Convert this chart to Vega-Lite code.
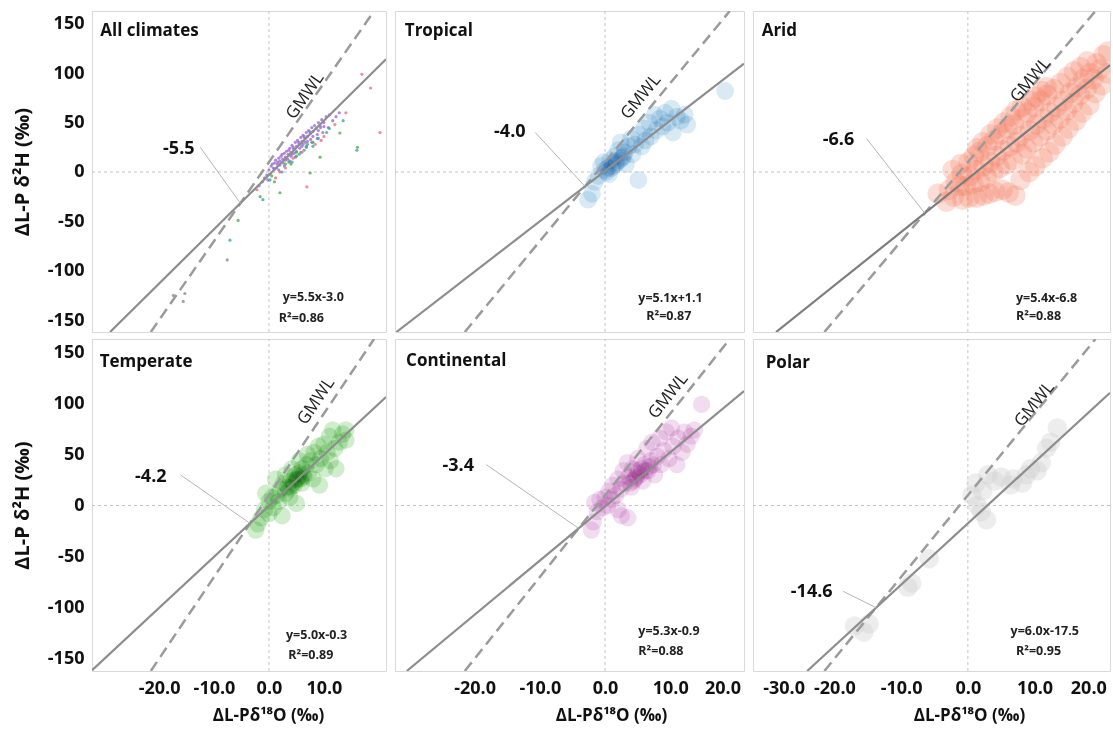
{
"$schema": "https://vega.github.io/schema/vega-lite/v6.json",
"padding": {"left": 11, "top": 10, "right": 0, "bottom": 0},
"background": "white",
"config": {
"view": {"stroke": "#d9d9d9", "strokeWidth": 1},
"font": "Open Sans",
"axis": {"ticks": false, "domain": false, "grid": false, "labelFontSize": 18, "labelFontWeight": "bold", "labelColor": "#111", "labelPadding": 8, "labelOverlap": false, "titleFontWeight": "bold", "titleColor": "#111"},
"axisX": {"labelFlush": false, "titleFontSize": 17, "titlePadding": 10},
"axisY": {"titleFontSize": 20, "titlePadding": 14, "minExtent": 46, "maxExtent": 46}
},
"datasets": {
"notes": [
{"panel":"All climates","eq":"y=5.5x-3.0","r2":"R²=0.86","cross":"-5.5"},
{"panel":"Tropical","eq":"y=5.1x+1.1","r2":"R²=0.87","cross":"-4.0"},
{"panel":"Arid","eq":"y=5.4x-6.8","r2":"R²=0.88","cross":"-6.6"},
{"panel":"Temperate","eq":"y=5.0x-0.3","r2":"R²=0.89","cross":"-4.2"},
{"panel":"Continental","eq":"y=5.3x-0.9","r2":"R²=0.88","cross":"-3.4"},
{"panel":"Polar","eq":"y=6.0x-17.5","r2":"R²=0.95","cross":"-14.6"}
],
"lines": [
{"kind":"zero","x":-32.2,"y":0,"x2":21.3,"y2":0},
{"kind":"zero","x":0,"y":-162,"x2":0,"y2":163},
{"kind":"gmwl","x":-21.5,"y":-162,"x2":19.125,"y2":163},
{"kind":"fit","panel":"All climates","x":-28.91,"y":-162,"x2":21.3,"y2":114.15},
{"kind":"fit","panel":"Tropical","x":-31.98,"y":-162,"x2":21.3,"y2":109.73},
{"kind":"fit","panel":"Arid","x":-28.74,"y":-162,"x2":21.3,"y2":108.22},
{"kind":"fit","panel":"Temperate","x":-32.2,"y":-161.3,"x2":21.3,"y2":106.2},
{"kind":"fit","panel":"Continental","x":-30.4,"y":-162,"x2":21.3,"y2":111.99},
{"kind":"fit","panel":"Polar","x":-24.08,"y":-162,"x2":21.3,"y2":110.3},
{"kind":"leader","panel":"All climates","x":-12.5,"y":25,"x2":-5.2,"y2":-31.6},
{"kind":"leader","panel":"Tropical","x":-10.7,"y":40,"x2":-3.07,"y2":-14.6},
{"kind":"leader","panel":"Arid","x":-15.2,"y":34,"x2":-6.46,"y2":-41.7},
{"kind":"leader","panel":"Temperate","x":-16.1,"y":30,"x2":-3.43,"y2":-17.5},
{"kind":"leader","panel":"Continental","x":-18.2,"y":40,"x2":-4.04,"y2":-22.3},
{"kind":"leader","panel":"Polar","x":-18.7,"y":-84,"x2":-13.75,"y2":-100}
],
"points": [
{"panel":"All climates","climate":"Continental","x":0,"y":2},{"panel":"All climates","climate":"Continental","x":0.4,"y":6},{"panel":"All climates","climate":"Continental","x":0.8,"y":4},{"panel":"All climates","climate":"Continental","x":1,"y":9},{"panel":"All climates","climate":"Continental","x":1.2,"y":12},{"panel":"All climates","climate":"Continental","x":1.5,"y":8},{"panel":"All climates","climate":"Continental","x":1.8,"y":14},{"panel":"All climates","climate":"Continental","x":2,"y":11},{"panel":"All climates","climate":"Continental","x":2.2,"y":16},{"panel":"All climates","climate":"Continental","x":2.5,"y":13},{"panel":"All climates","climate":"Continental","x":2.8,"y":19},{"panel":"All climates","climate":"Continental","x":3,"y":15},{"panel":"All climates","climate":"Continental","x":3.2,"y":21},{"panel":"All climates","climate":"Continental","x":3.5,"y":18},{"panel":"All climates","climate":"Continental","x":3.8,"y":24},{"panel":"All climates","climate":"Continental","x":4,"y":20},{"panel":"All climates","climate":"Continental","x":4.2,"y":27},{"panel":"All climates","climate":"Continental","x":4.5,"y":23},{"panel":"All climates","climate":"Continental","x":4.8,"y":30},{"panel":"All climates","climate":"Continental","x":5,"y":26},{"panel":"All climates","climate":"Continental","x":5.2,"y":32},{"panel":"All climates","climate":"Continental","x":5.5,"y":28},{"panel":"All climates","climate":"Continental","x":5.8,"y":35},{"panel":"All climates","climate":"Continental","x":6,"y":31},{"panel":"All climates","climate":"Continental","x":6.2,"y":37},{"panel":"All climates","climate":"Continental","x":6.5,"y":34},{"panel":"All climates","climate":"Continental","x":6.8,"y":40},{"panel":"All climates","climate":"Continental","x":7,"y":36},{"panel":"All climates","climate":"Continental","x":7.2,"y":42},{"panel":"All climates","climate":"Continental","x":7.5,"y":39},{"panel":"All climates","climate":"Continental","x":7.8,"y":45},{"panel":"All climates","climate":"Continental","x":8,"y":41},{"panel":"All climates","climate":"Continental","x":8.3,"y":47},{"panel":"All climates","climate":"Continental","x":8.6,"y":44},{"panel":"All climates","climate":"Continental","x":9,"y":50},{"panel":"All climates","climate":"Continental","x":9.3,"y":47},{"panel":"All climates","climate":"Continental","x":9.6,"y":53},{"panel":"All climates","climate":"Continental","x":10,"y":50},{"panel":"All climates","climate":"Continental","x":10.4,"y":56},{"panel":"All climates","climate":"Continental","x":3.4,"y":13},{"panel":"All climates","climate":"Continental","x":4.6,"y":19},{"panel":"All climates","climate":"Continental","x":5.6,"y":24},{"panel":"All climates","climate":"Continental","x":6.6,"y":30},{"panel":"All climates","climate":"Continental","x":1.4,"y":4},{"panel":"All climates","climate":"Continental","x":2.6,"y":9},{"panel":"All climates","climate":"Continental","x":7.6,"y":33},{"panel":"All climates","climate":"Continental","x":8.8,"y":38},{"panel":"All climates","climate":"Continental","x":-0.4,"y":-3},{"panel":"All climates","climate":"Continental","x":-0.8,"y":-6},{"panel":"All climates","climate":"Continental","x":11,"y":58},{"panel":"All climates","climate":"Continental","x":2.4,"y":18},{"panel":"All climates","climate":"Continental","x":3.6,"y":22},{"panel":"All climates","climate":"Continental","x":4.4,"y":25},{"panel":"All climates","climate":"Continental","x":5.4,"y":30},{"panel":"All climates","climate":"Continental","x":6.4,"y":36},{"panel":"All climates","climate":"Continental","x":7.4,"y":41},{"panel":"All climates","climate":"Continental","x":1.6,"y":10},{"panel":"All climates","climate":"Continental","x":0.6,"y":8},
{"panel":"All climates","climate":"Continental","x":1,"y":3},{"panel":"All climates","climate":"Continental","x":2,"y":7},{"panel":"All climates","climate":"Continental","x":3,"y":12},{"panel":"All climates","climate":"Continental","x":4,"y":16},{"panel":"All climates","climate":"Continental","x":5,"y":21},{"panel":"All climates","climate":"Continental","x":6,"y":26},{"panel":"All climates","climate":"Continental","x":7,"y":31},{"panel":"All climates","climate":"Continental","x":8,"y":36},{"panel":"All climates","climate":"Continental","x":9,"y":42},{"panel":"All climates","climate":"Continental","x":10,"y":46},{"panel":"All climates","climate":"Continental","x":1.8,"y":2},{"panel":"All climates","climate":"Continental","x":2.8,"y":6},{"panel":"All climates","climate":"Continental","x":3.8,"y":11},{"panel":"All climates","climate":"Continental","x":4.8,"y":15},{"panel":"All climates","climate":"Continental","x":5.8,"y":20},{"panel":"All climates","climate":"Continental","x":6.8,"y":25},{"panel":"All climates","climate":"Continental","x":7.8,"y":30},{"panel":"All climates","climate":"Continental","x":8.8,"y":34},{"panel":"All climates","climate":"Continental","x":9.8,"y":40},{"panel":"All climates","climate":"Continental","x":10.8,"y":45},{"panel":"All climates","climate":"Continental","x":0.2,"y":-2},{"panel":"All climates","climate":"Continental","x":-0.2,"y":-8},{"panel":"All climates","climate":"Continental","x":-1.2,"y":-10},{"panel":"All climates","climate":"Continental","x":-1.8,"y":-14},{"panel":"All climates","climate":"Continental","x":11.6,"y":52},{"panel":"All climates","climate":"Continental","x":12.2,"y":56},{"panel":"All climates","climate":"Continental","x":12.8,"y":60},{"panel":"All climates","climate":"Continental","x":9.4,"y":45},{"panel":"All climates","climate":"Continental","x":6.2,"y":28},{"panel":"All climates","climate":"Continental","x":4.2,"y":18},
{"panel":"All climates","climate":"Temperate","x":0.5,"y":-4},{"panel":"All climates","climate":"Temperate","x":2,"y":-21},{"panel":"All climates","climate":"Temperate","x":3.6,"y":10},{"panel":"All climates","climate":"Temperate","x":5,"y":16},{"panel":"All climates","climate":"Temperate","x":6.4,"y":22},{"panel":"All climates","climate":"Temperate","x":7.5,"y":-1},{"panel":"All climates","climate":"Temperate","x":9.3,"y":15},{"panel":"All climates","climate":"Temperate","x":12.9,"y":39.5},{"panel":"All climates","climate":"Temperate","x":16.1,"y":25},{"panel":"All climates","climate":"Temperate","x":-1.6,"y":-25},{"panel":"All climates","climate":"Temperate","x":1,"y":-10},{"panel":"All climates","climate":"Temperate","x":8,"y":30},{"panel":"All climates","climate":"Temperate","x":4,"y":8},{"panel":"All climates","climate":"Temperate","x":10.5,"y":40},{"panel":"All climates","climate":"Temperate","x":-5.6,"y":-49},{"panel":"All climates","climate":"Temperate","x":3,"y":8},{"panel":"All climates","climate":"Temperate","x":5,"y":20},{"panel":"All climates","climate":"Temperate","x":7,"y":28},
{"panel":"All climates","climate":"Arid","x":1.2,"y":-6},{"panel":"All climates","climate":"Arid","x":3,"y":4},{"panel":"All climates","climate":"Arid","x":4.4,"y":14},{"panel":"All climates","climate":"Arid","x":6,"y":20},{"panel":"All climates","climate":"Arid","x":8.4,"y":28},{"panel":"All climates","climate":"Arid","x":10,"y":36},{"panel":"All climates","climate":"Arid","x":12,"y":48},{"panel":"All climates","climate":"Arid","x":16.9,"y":99},{"panel":"All climates","climate":"Arid","x":18.5,"y":85},{"panel":"All climates","climate":"Arid","x":14,"y":60},{"panel":"All climates","climate":"Arid","x":-2.2,"y":-18},{"panel":"All climates","climate":"Arid","x":6.9,"y":-15},{"panel":"All climates","climate":"Arid","x":20.2,"y":40},{"panel":"All climates","climate":"Arid","x":2,"y":0},{"panel":"All climates","climate":"Arid","x":9.5,"y":32},
{"panel":"All climates","climate":"Tropical","x":0.2,"y":-8},{"panel":"All climates","climate":"Tropical","x":2.4,"y":0},{"panel":"All climates","climate":"Tropical","x":4.2,"y":10},{"panel":"All climates","climate":"Tropical","x":6.8,"y":26},{"panel":"All climates","climate":"Tropical","x":9,"y":34},{"panel":"All climates","climate":"Tropical","x":11,"y":44},{"panel":"All climates","climate":"Tropical","x":-1.1,"y":-28},{"panel":"All climates","climate":"Tropical","x":16,"y":22},{"panel":"All climates","climate":"Tropical","x":13.5,"y":52},{"panel":"All climates","climate":"Tropical","x":-7.1,"y":-69},{"panel":"All climates","climate":"Tropical","x":5.5,"y":18},{"panel":"All climates","climate":"Tropical","x":8,"y":26},
{"panel":"All climates","climate":"Polar","x":-15.3,"y":-123},{"panel":"All climates","climate":"Polar","x":-17.4,"y":-125},{"panel":"All climates","climate":"Polar","x":-15.6,"y":-131},{"panel":"All climates","climate":"Polar","x":-7.6,"y":-89},

{"panel":"Tropical","x":-2.6,"y":-28},{"panel":"Tropical","x":-2.0,"y":-22},{"panel":"Tropical","x":-1.6,"y":-10},{"panel":"Tropical","x":-1.0,"y":-4},{"panel":"Tropical","x":-0.6,"y":6},{"panel":"Tropical","x":-0.2,"y":10},{"panel":"Tropical","x":0,"y":2},{"panel":"Tropical","x":0.4,"y":4},{"panel":"Tropical","x":0.6,"y":-2},{"panel":"Tropical","x":0.8,"y":12},{"panel":"Tropical","x":1.2,"y":6},{"panel":"Tropical","x":1.5,"y":16},{"panel":"Tropical","x":1.8,"y":10},{"panel":"Tropical","x":2.0,"y":22},{"panel":"Tropical","x":2.4,"y":30},{"panel":"Tropical","x":2.6,"y":14},{"panel":"Tropical","x":3.0,"y":20},{"panel":"Tropical","x":3.2,"y":8},{"panel":"Tropical","x":3.6,"y":26},{"panel":"Tropical","x":4.0,"y":34},{"panel":"Tropical","x":4.2,"y":18},{"panel":"Tropical","x":4.6,"y":28},{"panel":"Tropical","x":5.1,"y":-8},{"panel":"Tropical","x":5.2,"y":38},{"panel":"Tropical","x":5.6,"y":26},{"panel":"Tropical","x":6.0,"y":44},{"panel":"Tropical","x":6.2,"y":32},{"panel":"Tropical","x":6.8,"y":50},{"panel":"Tropical","x":7.0,"y":36},{"panel":"Tropical","x":7.6,"y":58},{"panel":"Tropical","x":7.8,"y":42},{"panel":"Tropical","x":8.4,"y":54},{"panel":"Tropical","x":8.8,"y":46},{"panel":"Tropical","x":9.2,"y":60},{"panel":"Tropical","x":9.6,"y":50},{"panel":"Tropical","x":10.2,"y":64},{"panel":"Tropical","x":10.4,"y":40},{"panel":"Tropical","x":11.0,"y":56},{"panel":"Tropical","x":11.6,"y":52},{"panel":"Tropical","x":12.2,"y":58},{"panel":"Tropical","x":12.6,"y":48},{"panel":"Tropical","x":18.4,"y":82},{"panel":"Tropical","x":0.2,"y":0},{"panel":"Tropical","x":1.0,"y":4},{"panel":"Tropical","x":1.6,"y":8},{"panel":"Tropical","x":2.2,"y":12},{"panel":"Tropical","x":2.8,"y":16},

{"panel":"Arid","x":-4.5,"y":-22},{"panel":"Arid","x":-3.2,"y":-30},{"panel":"Arid","x":-2.8,"y":-18},{"panel":"Arid","x":-2.1,"y":-25},{"panel":"Arid","x":-1.8,"y":-10},{"panel":"Arid","x":-2.3,"y":2},{"panel":"Arid","x":-0.8,"y":-28},{"panel":"Arid","x":-1.2,"y":-14},{"panel":"Arid","x":-0.9,"y":-2},{"panel":"Arid","x":-1.1,"y":8},{"panel":"Arid","x":0.2,"y":-26},{"panel":"Arid","x":-0.3,"y":-14},{"panel":"Arid","x":0.3,"y":-4},{"panel":"Arid","x":0.1,"y":10},{"panel":"Arid","x":1.3,"y":-26},{"panel":"Arid","x":0.8,"y":-12},{"panel":"Arid","x":1.2,"y":2},{"panel":"Arid","x":0.9,"y":16},{"panel":"Arid","x":1.4,"y":24},{"panel":"Arid","x":2.3,"y":-24},{"panel":"Arid","x":1.8,"y":-10},{"panel":"Arid","x":2.4,"y":6},{"panel":"Arid","x":1.7,"y":20},{"panel":"Arid","x":2.2,"y":30},{"panel":"Arid","x":3.2,"y":-22},{"panel":"Arid","x":2.8,"y":-6},{"panel":"Arid","x":3.3,"y":10},{"panel":"Arid","x":2.9,"y":26},{"panel":"Arid","x":3.4,"y":38},{"panel":"Arid","x":4.1,"y":-20},{"panel":"Arid","x":3.8,"y":0},{"panel":"Arid","x":4.3,"y":16},{"panel":"Arid","x":3.9,"y":32},{"panel":"Arid","x":4.4,"y":44},{"panel":"Arid","x":5.2,"y":-18},{"panel":"Arid","x":4.8,"y":4},{"panel":"Arid","x":5.3,"y":22},{"panel":"Arid","x":4.9,"y":38},{"panel":"Arid","x":5.4,"y":50},{"panel":"Arid","x":6.1,"y":-21},{"panel":"Arid","x":5.8,"y":8},{"panel":"Arid","x":6.3,"y":26},{"panel":"Arid","x":5.9,"y":44},{"panel":"Arid","x":6.4,"y":56},{"panel":"Arid","x":7.1,"y":-24},{"panel":"Arid","x":6.8,"y":12},{"panel":"Arid","x":7.3,"y":30},{"panel":"Arid","x":6.9,"y":48},{"panel":"Arid","x":7.2,"y":62},{"panel":"Arid","x":7.9,"y":-8},{"panel":"Arid","x":8.2,"y":18},{"panel":"Arid","x":7.8,"y":36},{"panel":"Arid","x":8.3,"y":54},{"panel":"Arid","x":8.1,"y":66},{"panel":"Arid","x":9.2,"y":0},{"panel":"Arid","x":8.8,"y":24},{"panel":"Arid","x":9.3,"y":42},{"panel":"Arid","x":8.9,"y":60},{"panel":"Arid","x":9.4,"y":72},{"panel":"Arid","x":10.1,"y":6},{"panel":"Arid","x":9.8,"y":30},{"panel":"Arid","x":10.3,"y":48},{"panel":"Arid","x":9.9,"y":66},{"panel":"Arid","x":10.2,"y":76},{"panel":"Arid","x":11.2,"y":14},{"panel":"Arid","x":10.8,"y":36},{"panel":"Arid","x":11.3,"y":54},{"panel":"Arid","x":10.9,"y":72},{"panel":"Arid","x":11.1,"y":82},{"panel":"Arid","x":12.2,"y":20},{"panel":"Arid","x":11.8,"y":42},{"panel":"Arid","x":12.3,"y":60},{"panel":"Arid","x":11.9,"y":78},{"panel":"Arid","x":11.8,"y":86},{"panel":"Arid","x":13.1,"y":28},{"panel":"Arid","x":12.8,"y":48},{"panel":"Arid","x":13.3,"y":66},{"panel":"Arid","x":12.9,"y":84},{"panel":"Arid","x":14.2,"y":36},{"panel":"Arid","x":13.8,"y":54},{"panel":"Arid","x":14.3,"y":72},{"panel":"Arid","x":13.9,"y":90},{"panel":"Arid","x":15.1,"y":44},{"panel":"Arid","x":14.8,"y":62},{"panel":"Arid","x":15.3,"y":80},{"panel":"Arid","x":14.9,"y":96},{"panel":"Arid","x":16.2,"y":52},{"panel":"Arid","x":15.8,"y":70},{"panel":"Arid","x":16.3,"y":86},{"panel":"Arid","x":15.9,"y":102},{"panel":"Arid","x":17.1,"y":60},{"panel":"Arid","x":16.8,"y":78},{"panel":"Arid","x":17.3,"y":94},{"panel":"Arid","x":16.9,"y":106},{"panel":"Arid","x":18.2,"y":68},{"panel":"Arid","x":17.8,"y":84},{"panel":"Arid","x":18.3,"y":100},{"panel":"Arid","x":17.9,"y":112},{"panel":"Arid","x":19.1,"y":80},{"panel":"Arid","x":18.8,"y":94},{"panel":"Arid","x":19.3,"y":110},{"panel":"Arid","x":20.1,"y":88},{"panel":"Arid","x":19.8,"y":104},{"panel":"Arid","x":20.3,"y":118},{"panel":"Arid","x":20.9,"y":100},{"panel":"Arid","x":21.0,"y":122},

{"panel":"Temperate","x":-2.4,"y":-24},{"panel":"Temperate","x":-2.0,"y":-18},{"panel":"Temperate","x":-1.4,"y":-12},{"panel":"Temperate","x":-0.8,"y":-4},{"panel":"Temperate","x":-0.6,"y":12},{"panel":"Temperate","x":0,"y":-8},{"panel":"Temperate","x":0,"y":4},{"panel":"Temperate","x":0.6,"y":8},{"panel":"Temperate","x":0.8,"y":-2},{"panel":"Temperate","x":1.2,"y":26},{"panel":"Temperate","x":1.4,"y":10},{"panel":"Temperate","x":1.8,"y":4},{"panel":"Temperate","x":2,"y":16},{"panel":"Temperate","x":2.4,"y":-10},{"panel":"Temperate","x":2.6,"y":22},{"panel":"Temperate","x":3,"y":12},{"panel":"Temperate","x":3,"y":30},{"panel":"Temperate","x":3.4,"y":18},{"panel":"Temperate","x":3.8,"y":8},{"panel":"Temperate","x":4,"y":24},{"panel":"Temperate","x":4.2,"y":36},{"panel":"Temperate","x":4.6,"y":20},{"panel":"Temperate","x":4.8,"y":30},{"panel":"Temperate","x":5,"y":2},{"panel":"Temperate","x":5.2,"y":26},{"panel":"Temperate","x":5.5,"y":44},{"panel":"Temperate","x":5.6,"y":32},{"panel":"Temperate","x":6,"y":22},{"panel":"Temperate","x":6,"y":36},{"panel":"Temperate","x":6.4,"y":28},{"panel":"Temperate","x":6.8,"y":40},{"panel":"Temperate","x":7,"y":50},{"panel":"Temperate","x":7.2,"y":32},{"panel":"Temperate","x":7.6,"y":44},{"panel":"Temperate","x":8,"y":26},{"panel":"Temperate","x":8.2,"y":52},{"panel":"Temperate","x":8.6,"y":40},{"panel":"Temperate","x":9,"y":58},{"panel":"Temperate","x":9.2,"y":20},{"panel":"Temperate","x":9.4,"y":46},{"panel":"Temperate","x":10,"y":60},{"panel":"Temperate","x":10.2,"y":36},{"panel":"Temperate","x":10.6,"y":52},{"panel":"Temperate","x":11,"y":68},{"panel":"Temperate","x":11.2,"y":44},{"panel":"Temperate","x":11.6,"y":74},{"panel":"Temperate","x":12,"y":56},{"panel":"Temperate","x":12.2,"y":36},{"panel":"Temperate","x":12.8,"y":62},{"panel":"Temperate","x":13.4,"y":70},{"panel":"Temperate","x":14,"y":64},{"panel":"Temperate","x":14,"y":74},{"panel":"Temperate","x":4.4,"y":22},{"panel":"Temperate","x":5.0,"y":25},{"panel":"Temperate","x":5.4,"y":28},{"panel":"Temperate","x":4.0,"y":18},{"panel":"Temperate","x":6.2,"y":30},{"panel":"Temperate","x":3.6,"y":16},{"panel":"Temperate","x":5.8,"y":26},

{"panel":"Continental","x":-2.1,"y":-24},{"panel":"Continental","x":-1.8,"y":-16},{"panel":"Continental","x":-1.6,"y":3},{"panel":"Continental","x":-1.2,"y":-6},{"panel":"Continental","x":-0.8,"y":6},{"panel":"Continental","x":-0.4,"y":-2},{"panel":"Continental","x":0,"y":8},{"panel":"Continental","x":0.4,"y":0},{"panel":"Continental","x":0.6,"y":14},{"panel":"Continental","x":1,"y":6},{"panel":"Continental","x":1.2,"y":20},{"panel":"Continental","x":1.6,"y":10},{"panel":"Continental","x":2,"y":26},{"panel":"Continental","x":2,"y":-4},{"panel":"Continental","x":2.5,"y":-10},{"panel":"Continental","x":2.4,"y":16},{"panel":"Continental","x":2.8,"y":34},{"panel":"Continental","x":3,"y":22},{"panel":"Continental","x":3.5,"y":-12},{"panel":"Continental","x":3.4,"y":42},{"panel":"Continental","x":3.6,"y":28},{"panel":"Continental","x":4,"y":18},{"panel":"Continental","x":4.2,"y":36},{"panel":"Continental","x":4.6,"y":26},{"panel":"Continental","x":5,"y":46},{"panel":"Continental","x":5.2,"y":32},{"panel":"Continental","x":5.6,"y":36},{"panel":"Continental","x":5.8,"y":24},{"panel":"Continental","x":6,"y":40},{"panel":"Continental","x":6.4,"y":56},{"panel":"Continental","x":6.6,"y":34},{"panel":"Continental","x":7,"y":44},{"panel":"Continental","x":7.2,"y":62},{"panel":"Continental","x":7.6,"y":30},{"panel":"Continental","x":8,"y":48},{"panel":"Continental","x":8.4,"y":66},{"panel":"Continental","x":8.6,"y":40},{"panel":"Continental","x":9,"y":54},{"panel":"Continental","x":9.4,"y":72},{"panel":"Continental","x":9.8,"y":46},{"panel":"Continental","x":10.2,"y":76},{"panel":"Continental","x":10.4,"y":58},{"panel":"Continental","x":11,"y":40},{"panel":"Continental","x":11.2,"y":66},{"panel":"Continental","x":11.8,"y":52},{"panel":"Continental","x":12.2,"y":72},{"panel":"Continental","x":12.6,"y":60},{"panel":"Continental","x":13.2,"y":68},{"panel":"Continental","x":13.7,"y":74},{"panel":"Continental","x":14.8,"y":99},{"panel":"Continental","x":4.8,"y":28},{"panel":"Continental","x":5.4,"y":30},{"panel":"Continental","x":6.2,"y":34},{"panel":"Continental","x":4.4,"y":24},{"panel":"Continental","x":6.8,"y":38},{"panel":"Continental","x":5,"y":34},{"panel":"Continental","x":3.8,"y":22},{"panel":"Continental","x":7.4,"y":40},

{"panel":"Polar","x":-17,"y":-118},{"panel":"Polar","x":-15.6,"y":-124},{"panel":"Polar","x":-14.8,"y":-116},{"panel":"Polar","x":-9,"y":-80},{"panel":"Polar","x":-8.4,"y":-76},{"panel":"Polar","x":-5.8,"y":-52},{"panel":"Polar","x":0.6,"y":10},{"panel":"Polar","x":1.2,"y":22},{"panel":"Polar","x":1.4,"y":0},{"panel":"Polar","x":2,"y":-6},{"panel":"Polar","x":2.2,"y":14},{"panel":"Polar","x":2.8,"y":-14},{"panel":"Polar","x":3,"y":30},{"panel":"Polar","x":4,"y":24},{"panel":"Polar","x":5,"y":28},{"panel":"Polar","x":6.4,"y":20},{"panel":"Polar","x":6.8,"y":26},{"panel":"Polar","x":8.8,"y":30},{"panel":"Polar","x":9.4,"y":36},{"panel":"Polar","x":10.4,"y":34},{"panel":"Polar","x":11,"y":42},{"panel":"Polar","x":11.8,"y":56},{"panel":"Polar","x":12.4,"y":62},{"panel":"Polar","x":13.4,"y":76},{"panel":"Polar","x":8.2,"y":22}
]
},
"columns": 3,
"align": "each",
"spacing": {"row": 5, "column": 7},
"concat": [
{
"width": 294, "height": 321,
"layer": [
{
"encoding": {
"x": {"field": "x", "type": "quantitative", "scale": {"domain": [-32.2, 21.3], "nice": false, "zero": false}, "axis": null},
"y": {"field": "y", "type": "quantitative", "scale": {"domain": [-162, 163], "nice": false, "zero": false}, "axis": {"title": "ΔL-P δ²H (‰)", "values": [-150,-100,-50,0,50,100,150], "labelExpr": "replace(datum.label, '\u2212', '-')"}}
},
"layer": [
{"data": {"name": "lines"}, "transform": [{"filter": "datum.kind === 'zero'"}], "mark": {"type": "rule", "color": "#c4c4c4", "strokeWidth": 1, "strokeDash": [3, 3]}, "encoding": {"x2": {"field": "x2"}, "y2": {"field": "y2"}}},
{"data": {"name": "points"}, "transform": [{"filter": "datum.panel === 'All climates'"}], "mark": {"type": "circle", "size": 10, "opacity": 0.8, "clip": true}, "encoding": {"color": {"field": "climate", "type": "nominal", "scale": {"domain": ["Tropical","Arid","Temperate","Continental","Polar"], "range": ["#3aa6b0","#e8707f","#4caf50","#9b6bd6","#8c8c8c"]}, "legend": null}}},
{"data": {"name": "lines"}, "transform": [{"filter": "datum.kind === 'gmwl'"}], "mark": {"type": "rule", "color": "#9b9b9b", "strokeWidth": 2.5, "strokeDash": [11, 6], "clip": true}, "encoding": {"x2": {"field": "x2"}, "y2": {"field": "y2"}}},
{"data": {"name": "lines"}, "transform": [{"filter": "datum.kind === 'fit' && datum.panel === 'All climates'"}], "mark": {"type": "rule", "color": "#8d8d8d", "strokeWidth": 2.2, "clip": true}, "encoding": {"x2": {"field": "x2"}, "y2": {"field": "y2"}}},
{"data": {"name": "lines"}, "transform": [{"filter": "datum.kind === 'leader' && datum.panel === 'All climates'"}], "mark": {"type": "rule", "color": "#b5b5b5", "strokeWidth": 1}, "encoding": {"x2": {"field": "x2"}, "y2": {"field": "y2"}}}
]
},
{"data": {"name": "notes"}, "transform": [{"filter": "datum.panel === 'All climates'"}], "mark": {"type": "text", "align": "left", "baseline": "middle", "fontSize": 17, "fontWeight": "bold", "color": "#111"}, "encoding": {"x": {"datum": -30.7, "type": "quantitative", "axis": null}, "y": {"datum": 142.9, "type": "quantitative"}, "text": {"field": "panel", "type": "nominal"}}},
{"data": {"name": "notes"}, "transform": [{"filter": "datum.panel === 'All climates'"}], "mark": {"type": "text", "align": "left", "baseline": "middle", "fontSize": 12.5, "fontWeight": "bold", "color": "#222"}, "encoding": {"x": {"datum": 2.5, "type": "quantitative", "axis": null}, "y": {"datum": -126.6, "type": "quantitative"}, "text": {"field": "eq", "type": "nominal"}}},
{"data": {"name": "notes"}, "transform": [{"filter": "datum.panel === 'All climates'"}], "mark": {"type": "text", "align": "left", "baseline": "middle", "fontSize": 12.5, "fontWeight": "bold", "color": "#222"}, "encoding": {"x": {"datum": 1.8, "type": "quantitative", "axis": null}, "y": {"datum": -148, "type": "quantitative"}, "text": {"field": "r2", "type": "nominal"}}},
{"data": {"name": "notes"}, "transform": [{"filter": "datum.panel === 'All climates'"}], "mark": {"type": "text", "align": "center", "baseline": "middle", "fontSize": 18, "fontWeight": "bold", "color": "#111"}, "encoding": {"x": {"datum": -16.4, "type": "quantitative", "axis": null}, "y": {"datum": 23.3, "type": "quantitative"}, "text": {"field": "cross", "type": "nominal"}}},
{"data": {"name": "notes"}, "transform": [{"filter": "datum.panel === 'All climates'"}], "mark": {"type": "text", "align": "center", "baseline": "middle", "fontSize": 17, "color": "#222", "angle": 305, "text": "GMWL"}, "encoding": {"x": {"datum": 6.6, "type": "quantitative", "axis": null}, "y": {"datum": 77, "type": "quantitative"}}}
]
},
{
"width": 349, "height": 321,
"layer": [
{
"encoding": {
"x": {"field": "x", "type": "quantitative", "scale": {"domain": [-32.2, 21.3], "nice": false, "zero": false}, "axis": null},
"y": {"field": "y", "type": "quantitative", "scale": {"domain": [-162, 163], "nice": false, "zero": false}, "axis": null}
},
"layer": [
{"data": {"name": "lines"}, "transform": [{"filter": "datum.kind === 'zero'"}], "mark": {"type": "rule", "color": "#c4c4c4", "strokeWidth": 1, "strokeDash": [3, 3]}, "encoding": {"x2": {"field": "x2"}, "y2": {"field": "y2"}}},
{"data": {"name": "points"}, "transform": [{"filter": "datum.panel === 'Tropical'"}], "mark": {"type": "circle", "size": 320, "opacity": 0.42, "color": "#a3cde8", "blend": "multiply", "clip": true}},
{"data": {"name": "lines"}, "transform": [{"filter": "datum.kind === 'gmwl'"}], "mark": {"type": "rule", "color": "#9b9b9b", "strokeWidth": 2.5, "strokeDash": [11, 6], "clip": true}, "encoding": {"x2": {"field": "x2"}, "y2": {"field": "y2"}}},
{"data": {"name": "lines"}, "transform": [{"filter": "datum.kind === 'fit' && datum.panel === 'Tropical'"}], "mark": {"type": "rule", "color": "#8d8d8d", "strokeWidth": 2.2, "clip": true}, "encoding": {"x2": {"field": "x2"}, "y2": {"field": "y2"}}},
{"data": {"name": "lines"}, "transform": [{"filter": "datum.kind === 'leader' && datum.panel === 'Tropical'"}], "mark": {"type": "rule", "color": "#b5b5b5", "strokeWidth": 1}, "encoding": {"x2": {"field": "x2"}, "y2": {"field": "y2"}}}
]
},
{"data": {"name": "notes"}, "transform": [{"filter": "datum.panel === 'Tropical'"}], "mark": {"type": "text", "align": "left", "baseline": "middle", "fontSize": 17, "fontWeight": "bold", "color": "#111"}, "encoding": {"x": {"datum": -30.7, "type": "quantitative", "axis": null}, "y": {"datum": 143, "type": "quantitative", "axis": null}, "text": {"field": "panel", "type": "nominal"}}},
{"data": {"name": "notes"}, "transform": [{"filter": "datum.panel === 'Tropical'"}], "mark": {"type": "text", "align": "left", "baseline": "middle", "fontSize": 12.5, "fontWeight": "bold", "color": "#222"}, "encoding": {"x": {"datum": 5.1, "type": "quantitative", "axis": null}, "y": {"datum": -127.7, "type": "quantitative", "axis": null}, "text": {"field": "eq", "type": "nominal"}}},
{"data": {"name": "notes"}, "transform": [{"filter": "datum.panel === 'Tropical'"}], "mark": {"type": "text", "align": "left", "baseline": "middle", "fontSize": 12.5, "fontWeight": "bold", "color": "#222"}, "encoding": {"x": {"datum": 6.3, "type": "quantitative", "axis": null}, "y": {"datum": -146, "type": "quantitative", "axis": null}, "text": {"field": "r2", "type": "nominal"}}},
{"data": {"name": "notes"}, "transform": [{"filter": "datum.panel === 'Tropical'"}], "mark": {"type": "text", "align": "center", "baseline": "middle", "fontSize": 18, "fontWeight": "bold", "color": "#111"}, "encoding": {"x": {"datum": -14.6, "type": "quantitative", "axis": null}, "y": {"datum": 40.5, "type": "quantitative", "axis": null}, "text": {"field": "cross", "type": "nominal"}}},
{"data": {"name": "notes"}, "transform": [{"filter": "datum.panel === 'Tropical'"}], "mark": {"type": "text", "align": "center", "baseline": "middle", "fontSize": 17, "color": "#222", "angle": 309.5, "text": "GMWL"}, "encoding": {"x": {"datum": 5.5, "type": "quantitative", "axis": null}, "y": {"datum": 76, "type": "quantitative", "axis": null}}}
]
},
{
"width": 357, "height": 321,
"layer": [
{
"encoding": {
"x": {"field": "x", "type": "quantitative", "scale": {"domain": [-32.2, 21.3], "nice": false, "zero": false}, "axis": null},
"y": {"field": "y", "type": "quantitative", "scale": {"domain": [-162, 163], "nice": false, "zero": false}, "axis": null}
},
"layer": [
{"data": {"name": "lines"}, "transform": [{"filter": "datum.kind === 'zero'"}], "mark": {"type": "rule", "color": "#c4c4c4", "strokeWidth": 1, "strokeDash": [3, 3]}, "encoding": {"x2": {"field": "x2"}, "y2": {"field": "y2"}}},
{"data": {"name": "points"}, "transform": [{"filter": "datum.panel === 'Arid'"}], "mark": {"type": "circle", "size": 430, "opacity": 0.26, "color": "#f47c62", "clip": true}},
{"data": {"name": "lines"}, "transform": [{"filter": "datum.kind === 'gmwl'"}], "mark": {"type": "rule", "color": "#9b9b9b", "strokeWidth": 2.5, "strokeDash": [11, 6], "clip": true}, "encoding": {"x2": {"field": "x2"}, "y2": {"field": "y2"}}},
{"data": {"name": "lines"}, "transform": [{"filter": "datum.kind === 'fit' && datum.panel === 'Arid'"}], "mark": {"type": "rule", "color": "#7d7d7d", "strokeWidth": 2.2, "clip": true}, "encoding": {"x2": {"field": "x2"}, "y2": {"field": "y2"}}},
{"data": {"name": "lines"}, "transform": [{"filter": "datum.kind === 'leader' && datum.panel === 'Arid'"}], "mark": {"type": "rule", "color": "#b5b5b5", "strokeWidth": 1}, "encoding": {"x2": {"field": "x2"}, "y2": {"field": "y2"}}}
]
},
{"data": {"name": "notes"}, "transform": [{"filter": "datum.panel === 'Arid'"}], "mark": {"type": "text", "align": "left", "baseline": "middle", "fontSize": 17, "fontWeight": "bold", "color": "#111"}, "encoding": {"x": {"datum": -30.9, "type": "quantitative", "axis": null}, "y": {"datum": 143, "type": "quantitative", "axis": null}, "text": {"field": "panel", "type": "nominal"}}},
{"data": {"name": "notes"}, "transform": [{"filter": "datum.panel === 'Arid'"}], "mark": {"type": "text", "align": "left", "baseline": "middle", "fontSize": 12.5, "fontWeight": "bold", "color": "#222"}, "encoding": {"x": {"datum": 7.2, "type": "quantitative", "axis": null}, "y": {"datum": -127.7, "type": "quantitative", "axis": null}, "text": {"field": "eq", "type": "nominal"}}},
{"data": {"name": "notes"}, "transform": [{"filter": "datum.panel === 'Arid'"}], "mark": {"type": "text", "align": "left", "baseline": "middle", "fontSize": 12.5, "fontWeight": "bold", "color": "#222"}, "encoding": {"x": {"datum": 7.2, "type": "quantitative", "axis": null}, "y": {"datum": -146, "type": "quantitative", "axis": null}, "text": {"field": "r2", "type": "nominal"}}},
{"data": {"name": "notes"}, "transform": [{"filter": "datum.panel === 'Arid'"}], "mark": {"type": "text", "align": "center", "baseline": "middle", "fontSize": 18, "fontWeight": "bold", "color": "#111"}, "encoding": {"x": {"datum": -19.4, "type": "quantitative", "axis": null}, "y": {"datum": 32.4, "type": "quantitative", "axis": null}, "text": {"field": "cross", "type": "nominal"}}},
{"data": {"name": "notes"}, "transform": [{"filter": "datum.panel === 'Arid'"}], "mark": {"type": "text", "align": "center", "baseline": "middle", "fontSize": 17, "color": "#222", "angle": 310, "text": "GMWL"}, "encoding": {"x": {"datum": 9.4, "type": "quantitative", "axis": null}, "y": {"datum": 93, "type": "quantitative", "axis": null}}}
]
},
{
"width": 294, "height": 332,
"layer": [
{
"encoding": {
"x": {"field": "x", "type": "quantitative", "scale": {"domain": [-32.2, 21.3], "nice": false, "zero": false}, "axis": {"title": "ΔL-Pδ¹⁸O (‰)", "values": [-20,-10,0,10], "format": ".1f", "labelExpr": "replace(datum.label, '\u2212', '-')", "titleX": 176}},
"y": {"field": "y", "type": "quantitative", "scale": {"domain": [-162, 163], "nice": false, "zero": false}, "axis": {"title": "ΔL-P δ²H (‰)", "values": [-150,-100,-50,0,50,100,150], "labelExpr": "replace(datum.label, '\u2212', '-')"}}
},
"layer": [
{"data": {"name": "lines"}, "transform": [{"filter": "datum.kind === 'zero'"}], "mark": {"type": "rule", "color": "#c4c4c4", "strokeWidth": 1, "strokeDash": [3, 3]}, "encoding": {"x2": {"field": "x2"}, "y2": {"field": "y2"}}},
{"data": {"name": "points"}, "transform": [{"filter": "datum.panel === 'Temperate'"}], "mark": {"type": "circle", "size": 300, "opacity": 0.42, "color": "#8fd488", "blend": "multiply", "clip": true}},
{"data": {"name": "lines"}, "transform": [{"filter": "datum.kind === 'gmwl'"}], "mark": {"type": "rule", "color": "#9b9b9b", "strokeWidth": 2.5, "strokeDash": [11, 6], "clip": true}, "encoding": {"x2": {"field": "x2"}, "y2": {"field": "y2"}}},
{"data": {"name": "lines"}, "transform": [{"filter": "datum.kind === 'fit' && datum.panel === 'Temperate'"}], "mark": {"type": "rule", "color": "#8d8d8d", "strokeWidth": 2.2, "clip": true}, "encoding": {"x2": {"field": "x2"}, "y2": {"field": "y2"}}},
{"data": {"name": "lines"}, "transform": [{"filter": "datum.kind === 'leader' && datum.panel === 'Temperate'"}], "mark": {"type": "rule", "color": "#b5b5b5", "strokeWidth": 1}, "encoding": {"x2": {"field": "x2"}, "y2": {"field": "y2"}}}
]
},
{"data": {"name": "notes"}, "transform": [{"filter": "datum.panel === 'Temperate'"}], "mark": {"type": "text", "align": "left", "baseline": "middle", "fontSize": 17, "fontWeight": "bold", "color": "#111"}, "encoding": {"x": {"datum": -30.8, "type": "quantitative"}, "y": {"datum": 140.8, "type": "quantitative"}, "text": {"field": "panel", "type": "nominal"}}},
{"data": {"name": "notes"}, "transform": [{"filter": "datum.panel === 'Temperate'"}], "mark": {"type": "text", "align": "left", "baseline": "middle", "fontSize": 12.5, "fontWeight": "bold", "color": "#222"}, "encoding": {"x": {"datum": 3.1, "type": "quantitative"}, "y": {"datum": -127, "type": "quantitative"}, "text": {"field": "eq", "type": "nominal"}}},
{"data": {"name": "notes"}, "transform": [{"filter": "datum.panel === 'Temperate'"}], "mark": {"type": "text", "align": "left", "baseline": "middle", "fontSize": 12.5, "fontWeight": "bold", "color": "#222"}, "encoding": {"x": {"datum": 3.5, "type": "quantitative"}, "y": {"datum": -146.6, "type": "quantitative"}, "text": {"field": "r2", "type": "nominal"}}},
{"data": {"name": "notes"}, "transform": [{"filter": "datum.panel === 'Temperate'"}], "mark": {"type": "text", "align": "center", "baseline": "middle", "fontSize": 18, "fontWeight": "bold", "color": "#111"}, "encoding": {"x": {"datum": -21.5, "type": "quantitative"}, "y": {"datum": 28.3, "type": "quantitative"}, "text": {"field": "cross", "type": "nominal"}}},
{"data": {"name": "notes"}, "transform": [{"filter": "datum.panel === 'Temperate'"}], "mark": {"type": "text", "align": "center", "baseline": "middle", "fontSize": 17, "color": "#222", "angle": 304, "text": "GMWL"}, "encoding": {"x": {"datum": 8.6, "type": "quantitative"}, "y": {"datum": 102, "type": "quantitative"}}}
]
},
{
"width": 349, "height": 332,
"layer": [
{
"encoding": {
"x": {"field": "x", "type": "quantitative", "scale": {"domain": [-32.2, 21.3], "nice": false, "zero": false}, "axis": {"title": "ΔL-Pδ¹⁸O (‰)", "values": [-20,-10,0,10,20], "format": ".1f", "labelExpr": "replace(datum.label, '\u2212', '-')", "labelFlush": 15, "labelFlushOffset": 5, "titleX": 216}},
"y": {"field": "y", "type": "quantitative", "scale": {"domain": [-162, 163], "nice": false, "zero": false}, "axis": null}
},
"layer": [
{"data": {"name": "lines"}, "transform": [{"filter": "datum.kind === 'zero'"}], "mark": {"type": "rule", "color": "#c4c4c4", "strokeWidth": 1, "strokeDash": [3, 3]}, "encoding": {"x2": {"field": "x2"}, "y2": {"field": "y2"}}},
{"data": {"name": "points"}, "transform": [{"filter": "datum.panel === 'Continental'"}], "mark": {"type": "circle", "size": 300, "opacity": 0.42, "color": "#dfaedc", "blend": "multiply", "clip": true}},
{"data": {"name": "lines"}, "transform": [{"filter": "datum.kind === 'gmwl'"}], "mark": {"type": "rule", "color": "#9b9b9b", "strokeWidth": 2.5, "strokeDash": [11, 6], "clip": true}, "encoding": {"x2": {"field": "x2"}, "y2": {"field": "y2"}}},
{"data": {"name": "lines"}, "transform": [{"filter": "datum.kind === 'fit' && datum.panel === 'Continental'"}], "mark": {"type": "rule", "color": "#8d8d8d", "strokeWidth": 2.2, "clip": true}, "encoding": {"x2": {"field": "x2"}, "y2": {"field": "y2"}}},
{"data": {"name": "lines"}, "transform": [{"filter": "datum.kind === 'leader' && datum.panel === 'Continental'"}], "mark": {"type": "rule", "color": "#b5b5b5", "strokeWidth": 1}, "encoding": {"x2": {"field": "x2"}, "y2": {"field": "y2"}}}
]
},
{"data": {"name": "notes"}, "transform": [{"filter": "datum.panel === 'Continental'"}], "mark": {"type": "text", "align": "left", "baseline": "middle", "fontSize": 17, "fontWeight": "bold", "color": "#111"}, "encoding": {"x": {"datum": -30.5, "type": "quantitative"}, "y": {"datum": 141.7, "type": "quantitative", "axis": null}, "text": {"field": "panel", "type": "nominal"}}},
{"data": {"name": "notes"}, "transform": [{"filter": "datum.panel === 'Continental'"}], "mark": {"type": "text", "align": "left", "baseline": "middle", "fontSize": 12.5, "fontWeight": "bold", "color": "#222"}, "encoding": {"x": {"datum": 5.1, "type": "quantitative"}, "y": {"datum": -123, "type": "quantitative", "axis": null}, "text": {"field": "eq", "type": "nominal"}}},
{"data": {"name": "notes"}, "transform": [{"filter": "datum.panel === 'Continental'"}], "mark": {"type": "text", "align": "left", "baseline": "middle", "fontSize": 12.5, "fontWeight": "bold", "color": "#222"}, "encoding": {"x": {"datum": 5.1, "type": "quantitative"}, "y": {"datum": -142.6, "type": "quantitative", "axis": null}, "text": {"field": "r2", "type": "nominal"}}},
{"data": {"name": "notes"}, "transform": [{"filter": "datum.panel === 'Continental'"}], "mark": {"type": "text", "align": "center", "baseline": "middle", "fontSize": 18, "fontWeight": "bold", "color": "#111"}, "encoding": {"x": {"datum": -22.5, "type": "quantitative"}, "y": {"datum": 39, "type": "quantitative", "axis": null}, "text": {"field": "cross", "type": "nominal"}}},
{"data": {"name": "notes"}, "transform": [{"filter": "datum.panel === 'Continental'"}], "mark": {"type": "text", "align": "center", "baseline": "middle", "fontSize": 17, "color": "#222", "angle": 308.5, "text": "GMWL"}, "encoding": {"x": {"datum": 9.7, "type": "quantitative"}, "y": {"datum": 107, "type": "quantitative", "axis": null}}}
]
},
{
"width": 357, "height": 332,
"layer": [
{
"encoding": {
"x": {"field": "x", "type": "quantitative", "scale": {"domain": [-32.2, 21.3], "nice": false, "zero": false}, "axis": {"title": "ΔL-Pδ¹⁸O (‰)", "values": [-30,-20,-10,0,10,20], "format": ".1f", "labelExpr": "replace(datum.label, '\u2212', '-')", "labelFlush": 15, "labelFlushOffset": 5, "titleX": 216}},
"y": {"field": "y", "type": "quantitative", "scale": {"domain": [-162, 163], "nice": false, "zero": false}, "axis": null}
},
"layer": [
{"data": {"name": "lines"}, "transform": [{"filter": "datum.kind === 'zero'"}], "mark": {"type": "rule", "color": "#c4c4c4", "strokeWidth": 1, "strokeDash": [3, 3]}, "encoding": {"x2": {"field": "x2"}, "y2": {"field": "y2"}}},
{"data": {"name": "points"}, "transform": [{"filter": "datum.panel === 'Polar'"}], "mark": {"type": "circle", "size": 380, "opacity": 0.4, "color": "#d2d2d2", "clip": true}},
{"data": {"name": "lines"}, "transform": [{"filter": "datum.kind === 'gmwl'"}], "mark": {"type": "rule", "color": "#9b9b9b", "strokeWidth": 2.5, "strokeDash": [11, 6], "clip": true}, "encoding": {"x2": {"field": "x2"}, "y2": {"field": "y2"}}},
{"data": {"name": "lines"}, "transform": [{"filter": "datum.kind === 'fit' && datum.panel === 'Polar'"}], "mark": {"type": "rule", "color": "#8d8d8d", "strokeWidth": 2.2, "clip": true}, "encoding": {"x2": {"field": "x2"}, "y2": {"field": "y2"}}},
{"data": {"name": "lines"}, "transform": [{"filter": "datum.kind === 'leader' && datum.panel === 'Polar'"}], "mark": {"type": "rule", "color": "#b5b5b5", "strokeWidth": 1}, "encoding": {"x2": {"field": "x2"}, "y2": {"field": "y2"}}}
]
},
{"data": {"name": "notes"}, "transform": [{"filter": "datum.panel === 'Polar'"}], "mark": {"type": "text", "align": "left", "baseline": "middle", "fontSize": 17, "fontWeight": "bold", "color": "#111"}, "encoding": {"x": {"datum": -30.3, "type": "quantitative"}, "y": {"datum": 139.8, "type": "quantitative", "axis": null}, "text": {"field": "panel", "type": "nominal"}}},
{"data": {"name": "notes"}, "transform": [{"filter": "datum.panel === 'Polar'"}], "mark": {"type": "text", "align": "left", "baseline": "middle", "fontSize": 12.5, "fontWeight": "bold", "color": "#222"}, "encoding": {"x": {"datum": 6.4, "type": "quantitative"}, "y": {"datum": -123, "type": "quantitative", "axis": null}, "text": {"field": "eq", "type": "nominal"}}},
{"data": {"name": "notes"}, "transform": [{"filter": "datum.panel === 'Polar'"}], "mark": {"type": "text", "align": "left", "baseline": "middle", "fontSize": 12.5, "fontWeight": "bold", "color": "#222"}, "encoding": {"x": {"datum": 7.2, "type": "quantitative"}, "y": {"datum": -142.6, "type": "quantitative", "axis": null}, "text": {"field": "r2", "type": "nominal"}}},
{"data": {"name": "notes"}, "transform": [{"filter": "datum.panel === 'Polar'"}], "mark": {"type": "text", "align": "center", "baseline": "middle", "fontSize": 18, "fontWeight": "bold", "color": "#111"}, "encoding": {"x": {"datum": -23.4, "type": "quantitative"}, "y": {"datum": -85, "type": "quantitative", "axis": null}, "text": {"field": "cross", "type": "nominal"}}},
{"data": {"name": "notes"}, "transform": [{"filter": "datum.panel === 'Polar'"}], "mark": {"type": "text", "align": "center", "baseline": "middle", "fontSize": 17, "color": "#222", "angle": 309, "text": "GMWL"}, "encoding": {"x": {"datum": 10, "type": "quantitative"}, "y": {"datum": 99, "type": "quantitative", "axis": null}}}
]
}
]
}
